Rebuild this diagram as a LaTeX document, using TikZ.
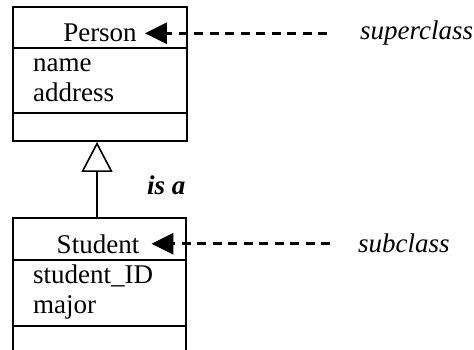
\documentclass[tikz,border=0pt]{standalone}
\usepackage{fontspec}
\setmainfont{Liberation Serif}
\usetikzlibrary{arrows.meta}
\begin{document}
\begin{tikzpicture}[x=1pt,y=-1pt,
  box/.style={draw, line width=1.8pt, inner sep=0pt},
  txt/.style={inner sep=0pt, font=\fontsize{27}{30}\selectfont},
  lbl/.style={inner sep=0pt, font=\fontsize{27}{30}\selectfont\itshape},
  dashline/.style={line width=3pt, dash pattern=on 9pt off 6.5pt,
    -{Triangle[length=22pt,width=21pt]}},
  gen/.style={line width=1.6pt, line join=round,
    -{Triangle[open,length=30pt,width=31pt,line width=1.6pt]}}]
\useasboundingbox (0,0) rectangle (474,350);
\clip (0,0) rectangle (474,350);
% boxes
\node[box, minimum width=174pt, minimum height=134pt] (pbox) at (100,74) {};
\node[box, minimum width=173pt, minimum height=150pt] (sbox) at (99.5,293) {};
\draw[line width=1.8pt] (pbox.west |- 0,48) -- (pbox.east |- 0,48);
\draw[line width=1.8pt] (pbox.west |- 0,113) -- (pbox.east |- 0,113);
\draw[line width=1.8pt] (sbox.west |- 0,260) -- (sbox.east |- 0,260);
\draw[line width=1.8pt] (sbox.west |- 0,326) -- (sbox.east |- 0,326);
% texts
\node[txt, anchor=base] (person) at (100,42) {Person};
\node[txt, anchor=base west] (name) at (33,72) {name};
\node[txt, anchor=base west] (addr) at (33,102) {address};
\node[txt, anchor=base] (student) at (98,253) {Student};
\node[txt, anchor=base west] (sid) at (33,283) {student\_ID};
\node[txt, anchor=base west] (major) at (33,313) {major};
\node[txt, anchor=base west, font=\fontsize{27}{30}\selectfont\bfseries\itshape] (isa) at (147,194) {is a};
\node[lbl, anchor=base west] (sup) at (360,40) {superclass};
\node[lbl, anchor=base west] (sub) at (358,252) {subclass};
% connectors
\draw[dashline, shorten <=33pt, shorten >=8pt] (sup.west |- person.east) -- (person.east);
\draw[dashline, shorten <=28pt, shorten >=12pt] (sub.west |- student.east) -- (student.east);
\draw[gen] (sbox.north -| 97,0) -- (pbox.south -| 97,0);
\end{tikzpicture}
\end{document}
